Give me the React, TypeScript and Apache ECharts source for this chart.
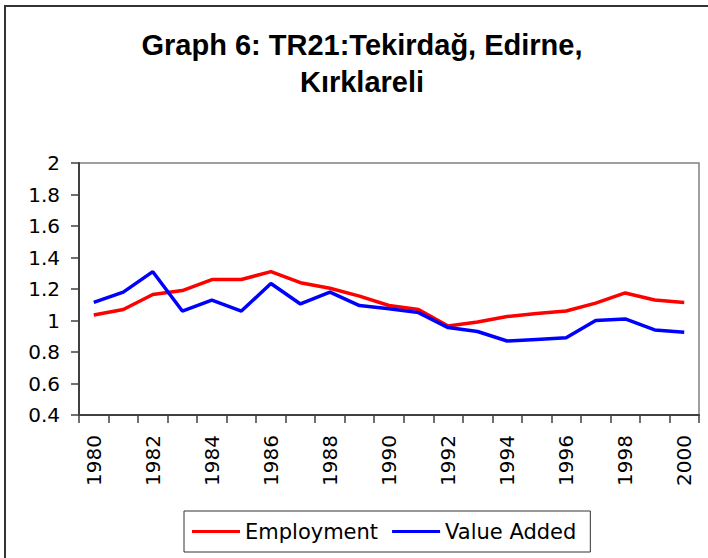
import React, { useEffect, useRef } from "react";
import * as echarts from "echarts";

const years = ["1980","1981","1982","1983","1984","1985","1986","1987","1988","1989","1990","1991","1992","1993","1994","1995","1996","1997","1998","1999","2000"];
const employment = [1.035, 1.07, 1.165, 1.19, 1.26, 1.26, 1.31, 1.24, 1.205, 1.155, 1.095, 1.07, 0.965, 0.99, 1.025, 1.045, 1.06, 1.11, 1.175, 1.13, 1.115];
const valueAdded = [1.115, 1.18, 1.31, 1.06, 1.13, 1.06, 1.235, 1.105, 1.18, 1.095, 1.075, 1.05, 0.955, 0.93, 0.87, 0.88, 0.89, 1.0, 1.01, 0.94, 0.925];
const seriesNames = ["Employment", "Value Added"];
const titleText = "Graph 6: TR21:Tekirdağ, Edirne,\nKırklareli";

export default function App() {
  const ref = useRef<HTMLDivElement>(null);
  useEffect(() => {
    if (!ref.current) return;
    const chart = echarts.init(ref.current, null, { renderer: "svg" });
    const axisFont = "'DejaVu Sans', sans-serif";
    chart.setOption({
      animation: false,
      backgroundColor: "#ffffff",
      title: {
        text: titleText,
        left: 362,
        top: 26,
        textAlign: "center",
        padding: 0,
        textStyle: {
          fontFamily: "'Liberation Sans', Arial, sans-serif",
          fontWeight: "bold",
          fontSize: 29,
          lineHeight: 37,
          color: "#000",
        },
      },
      graphic: [
        {
          type: "rect",
          shape: { x: 5, y: 6, width: 740, height: 600 },
          style: { fill: "none", stroke: "#333", lineWidth: 2 },
          silent: true,
          z: 100,
        },
      ],
      legend: {
        data: seriesNames,
        left: 184,
        top: 511,
        orient: "horizontal",
        icon: "rect",
        itemWidth: 48,
        itemHeight: 3,
        itemGap: 14,
        padding: [10, 14, 10, 8],
        borderColor: "#333",
        borderWidth: 1,
        textStyle: { fontFamily: axisFont, fontSize: 21, color: "#000" },
      },
      grid: {
        left: 79,
        top: 163,
        width: 620,
        height: 252,
        show: true,
        borderColor: "#808080",
        borderWidth: 1.5,
        containLabel: false,
      },
      xAxis: {
        type: "category",
        data: years,
        boundaryGap: true,
        axisLine: { show: true, lineStyle: { color: "#404040", width: 2 } },
        axisTick: { show: true, interval: 0, length: 8, inside: false, lineStyle: { color: "#404040", width: 1.5 } },
        axisLabel: { interval: 1, rotate: 90, margin: 20, fontFamily: axisFont, fontSize: 20, color: "#000" },
        splitLine: { show: false },
      },
      yAxis: {
        type: "value",
        min: 0.4,
        max: 2,
        interval: 0.2,
        axisLine: { show: true, lineStyle: { color: "#404040", width: 2 } },
        axisTick: { show: true, length: 8, inside: false, lineStyle: { color: "#404040", width: 1.5 } },
        axisLabel: { margin: 19, fontFamily: axisFont, fontSize: 20, color: "#000" },
        splitLine: { show: false },
      },
      series: [
        {
          name: seriesNames[0],
          type: "line",
          data: employment,
          showSymbol: false,
          symbol: "none",
          lineStyle: { color: "#ff0000", width: 3.5 },
          itemStyle: { color: "#ff0000" },
        },
        {
          name: seriesNames[1],
          type: "line",
          data: valueAdded,
          showSymbol: false,
          symbol: "none",
          lineStyle: { color: "#0000ff", width: 3.5 },
          itemStyle: { color: "#0000ff" },
        },
      ],
    });
    return () => chart.dispose();
  }, []);
  return (
    <div
      ref={ref}
      style={{ position: "fixed", left: 0, top: 0, width: 708, height: 558 }}
    />
  );
}
